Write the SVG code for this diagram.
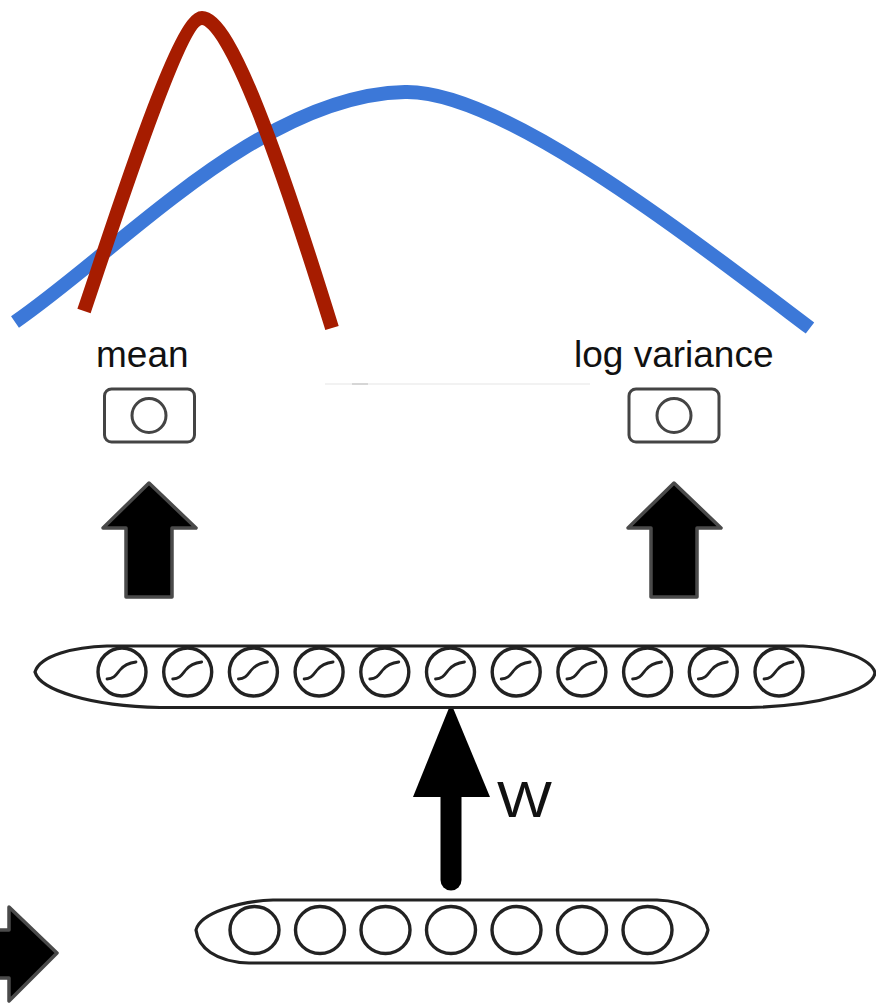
<svg xmlns="http://www.w3.org/2000/svg" xmlns:xlink="http://www.w3.org/1999/xlink" width="876" height="1003" viewBox="0 0 876 1003">
  <style>
    .label { font-family: "Liberation Sans", Arial, sans-serif; font-size: 37px; fill: #111; }
    .unit-box { fill: #fff; stroke: #444; stroke-width: 3; }
    .unit { fill: none; stroke: #444; stroke-width: 3; }
    .layer { fill: #fff; stroke: #222; stroke-width: 3.2; }
    .neuron { fill: #fff; stroke: #222; stroke-width: 3.4; }
    .sig { fill: none; stroke: #222; stroke-width: 2.8; stroke-linecap: round; }
    .block-arrow { fill: #000; stroke: #4a4a4a; stroke-width: 3.5; stroke-linejoin: round; }
    .curve { fill: none; stroke-width: 14; stroke-linecap: butt; }
  </style>
  <defs>
    <!-- sigmoid unit: circle with an S-shaped activation glyph -->
    <g id="sigmoid-unit">
      <circle r="24" class="neuron"/>
      <path class="sig" d="M-15,7 C-8,7 -6,3 -2,-2 C2,-7 6,-9 14,-10"/>
    </g>
    <ellipse id="plain-unit" rx="24.5" ry="23.5" class="neuron"/>
  </defs>

  <rect width="876" height="1003" fill="#fff"/>

  <!-- distributions -->
  <g id="distributions">
    <path class="curve" stroke="#3C78D8" d="M15,322 C120,250 260,95 405,92 C500,90 680,230 810,328"/>
    <path class="curve" stroke="#A61C00" d="M84,311 C110,235 178,18 202,18 C230,18 280,160 332,328"/>
  </g>

  <!-- faint rule under the labels -->
  <line x1="325" y1="384" x2="590" y2="384" stroke="#f2f2f2" stroke-width="2"/>
  <line x1="352" y1="384" x2="368" y2="384" stroke="#d6d6d6" stroke-width="2"/>

  <g id="mean">
    <text class="label" x="96" y="367">mean</text>
    <rect class="unit-box" x="104.5" y="389" width="90" height="53" rx="7"/>
    <circle class="unit" cx="149" cy="415.5" r="17"/>
  </g>

  <g id="log-variance">
    <text class="label" x="574" y="367">log variance</text>
    <rect class="unit-box" x="629" y="389" width="90" height="53" rx="7"/>
    <circle class="unit" cx="674" cy="415.5" r="17"/>
  </g>

  <g id="connectors">
    <path class="block-arrow" d="M149,483 L196,528 L172,528 L172,597 L126,597 L126,528 L103,528 Z"/>
    <path class="block-arrow" d="M674,483 L721,528 L697,528 L697,597 L651,597 L651,528 L628,528 Z"/>
    <path class="block-arrow" d="M-10,930 L9,930 L9,907 L57,953 L9,1001 L9,978 L-10,978 Z"/>
    <line x1="451" y1="790" x2="451" y2="880" stroke="#000" stroke-width="21" stroke-linecap="round"/>
    <polygon points="451,703 413,797 490,797" fill="#000"/>
    <text x="497" y="817" font-family="Liberation Sans, Arial, sans-serif" font-size="50" fill="#111" textLength="55" lengthAdjust="spacingAndGlyphs">W</text>
  </g>

  <g id="hidden-layer">
    <path class="layer" d="M35,672 C40,655 75,647 107,646 L803,646 C845,648 872,660 875,673 C872,690 820,706 750,707.5 L160,707.5 C90,706 40,690 35,672 Z"/>
    <use xlink:href="#sigmoid-unit" x="122" y="672"/>
    <use xlink:href="#sigmoid-unit" x="187.7" y="672"/>
    <use xlink:href="#sigmoid-unit" x="253.4" y="672"/>
    <use xlink:href="#sigmoid-unit" x="319.1" y="672"/>
    <use xlink:href="#sigmoid-unit" x="384.8" y="672"/>
    <use xlink:href="#sigmoid-unit" x="450.5" y="672"/>
    <use xlink:href="#sigmoid-unit" x="516.2" y="672"/>
    <use xlink:href="#sigmoid-unit" x="581.9" y="672"/>
    <use xlink:href="#sigmoid-unit" x="647.6" y="672"/>
    <use xlink:href="#sigmoid-unit" x="713.3" y="672"/>
    <use xlink:href="#sigmoid-unit" x="779" y="672"/>
  </g>

  <g id="input-layer">
    <path class="layer" d="M196,930 C200,913 240,901 273,900 L657,900 C690,901 705,915 708,930 C705,947 680,962 654,963 L249,963 C215,962 198,947 196,930 Z"/>
    <use xlink:href="#plain-unit" x="254.5" y="930"/>
    <use xlink:href="#plain-unit" x="320" y="930"/>
    <use xlink:href="#plain-unit" x="385.5" y="930"/>
    <use xlink:href="#plain-unit" x="451" y="930"/>
    <use xlink:href="#plain-unit" x="516.5" y="930"/>
    <use xlink:href="#plain-unit" x="582" y="930"/>
    <use xlink:href="#plain-unit" x="647.5" y="930"/>
  </g>
</svg>
